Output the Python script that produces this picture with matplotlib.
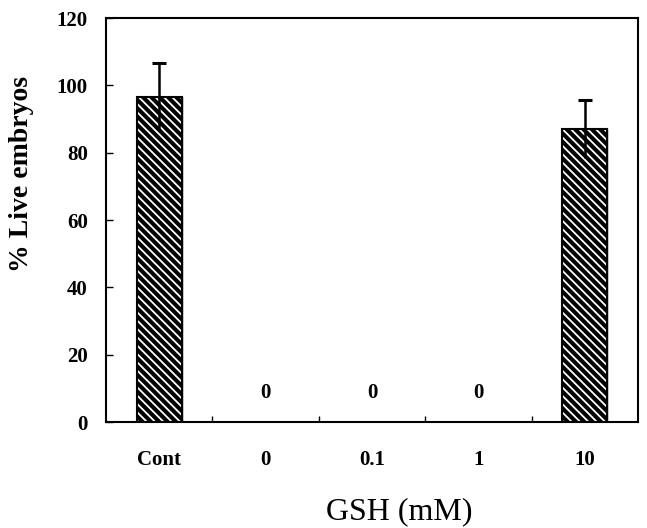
import matplotlib
matplotlib.use("Agg")
import matplotlib.pyplot as plt
import numpy as np

categories = ["Cont", "0", "0.1", "1", "10"]
values = [96.5, 0, 0, 0, 87]
errors = [10, 0, 0, 0, 8.5]
yticks = [0, 20, 40, 60, 80, 100, 120]

plt.rcParams['font.family'] = ['Liberation Serif', 'DejaVu Serif']
plt.rcParams['hatch.linewidth'] = 1.3

fig = plt.figure(figsize=(6.47, 5.28), dpi=100)
ax = fig.add_axes([106/647, 1-422/528, 532/647, 404/528])

x = np.arange(len(categories))
w = 0.42
show = [v > 0 for v in values]
xs = x[show]
vs = np.array(values)[show]
es = np.array(errors)[show]

ax.bar(xs, vs, width=w, color='black', edgecolor='black', zorder=2)
ax.bar(xs, vs, width=w, color='none', edgecolor='white', hatch='\\\\\\\\', linewidth=0, zorder=3)
ax.bar(xs, vs, width=w, color='none', edgecolor='black', linewidth=1.5, zorder=4)
ax.vlines(xs, vs - es, vs + es, color='black', linewidth=1.8, zorder=5)
ax.hlines(vs + es, xs - 0.065, xs + 0.065, color='black', linewidth=2.2, zorder=5)

for xi, v in zip(x, values):
    if v == 0:
        ax.text(xi, 8.6, "0", ha='center', va='center', fontsize=15, fontweight='bold')

ax.set_xlim(-0.5, 4.5)
ax.set_ylim(0, 120)
ax.set_yticks(yticks)
ax.set_yticklabels([str(t) for t in yticks], fontsize=15, fontweight='bold')
ax.tick_params(axis='y', direction='in', length=5, width=1, pad=13)
ax.set_xticks(x)
ax.set_xticklabels(categories, fontsize=15, fontweight='bold')
ax.tick_params(axis='x', which='major', length=0, pad=20)
ax.set_xticks(x[:-1] + 0.5, minor=True)
ax.tick_params(axis='x', which='minor', direction='in', length=4, width=1)

for s in ax.spines.values():
    s.set_linewidth(1.5)

ax.set_ylabel("% Live embryos", fontsize=20, fontweight='bold')
ax.yaxis.set_label_coords(-0.135, 0.615)
ax.set_xlabel("GSH (mM)", fontsize=23)
ax.xaxis.set_label_coords(0.551, -0.185)

fig.savefig("out.png", dpi=100)
